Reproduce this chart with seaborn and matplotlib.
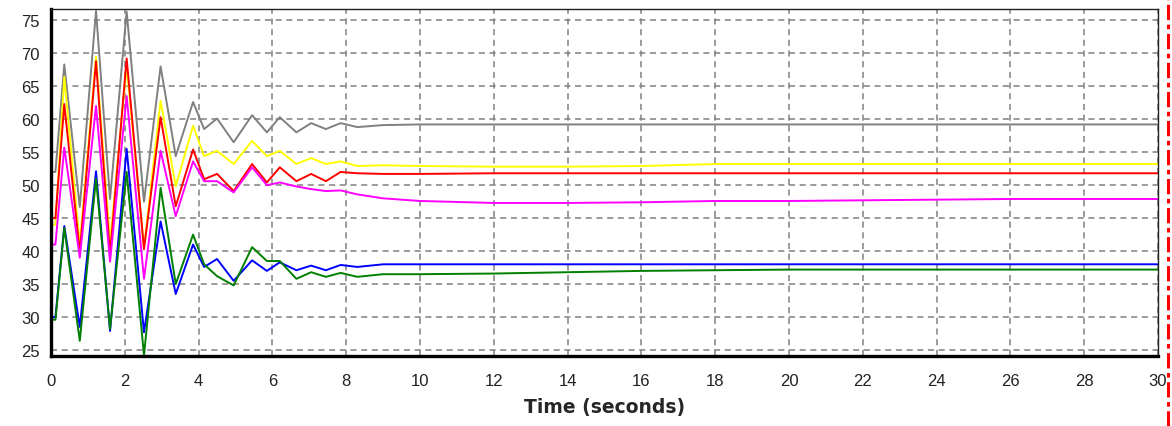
import matplotlib
matplotlib.use("Agg")
import matplotlib.pyplot as plt
from matplotlib.lines import Line2D
from matplotlib.ticker import MultipleLocator
import seaborn as sns
import pandas as pd

# ---- data ----
time_s = [0, 0.12, 0.36, 0.78, 1.22, 1.6, 2.05, 2.52, 2.97, 3.38, 3.85, 4.15,
          4.5, 4.95, 5.45, 5.85, 6.2, 6.65, 7.05, 7.45, 7.85, 8.3, 9, 10, 12,
          14, 16, 18, 20, 22, 24, 26, 28, 30]

grey = [52.0, 52.0, 68.3, 46.7, 76.4, 47.9, 76.3, 47.5, 68.0, 54.4, 62.6, 58.5,
        60.1, 56.5, 60.6, 58.0, 60.3, 58.0, 59.4, 58.5, 59.4, 58.8, 59.1, 59.2, 59.2,
        59.2, 59.2, 59.2, 59.2, 59.2, 59.2, 59.2, 59.2, 59.2]
yellow = [44.0, 44.0, 66.4, 41.0, 69.5, 41.3, 68.0, 40.5, 62.8, 49.8, 59.0, 54.4,
          55.2, 53.2, 56.7, 54.4, 55.2, 53.2, 54.1, 53.2, 53.6, 52.9, 53.0, 52.9, 52.8,
          52.8, 52.9, 53.2, 53.2, 53.2, 53.2, 53.2, 53.2, 53.2]
red = [45.0, 45.0, 62.3, 39.8, 68.8, 39.5, 69.2, 40.3, 60.3, 46.8, 55.4, 50.9,
       51.7, 49.1, 53.2, 50.4, 52.7, 50.6, 51.7, 50.6, 52.0, 51.8, 51.7, 51.7, 51.8,
       51.8, 51.8, 51.8, 51.8, 51.8, 51.8, 51.8, 51.8, 51.8]
magenta = [41.0, 41.0, 55.7, 39.0, 62.0, 38.4, 63.5, 35.8, 55.2, 45.3, 53.6, 50.6,
           50.6, 48.9, 52.7, 50.0, 50.4, 49.8, 49.4, 49.1, 49.2, 48.6, 48.0, 47.6, 47.3,
           47.3, 47.4, 47.6, 47.6, 47.7, 47.8, 47.9, 47.9, 47.9]
blue = [30.0, 30.0, 43.8, 28.5, 52.1, 27.9, 55.5, 27.7, 44.5, 33.5, 41.0, 37.6,
        38.8, 35.5, 38.6, 37.0, 38.3, 37.1, 37.8, 37.1, 37.9, 37.6, 38.0, 38.0, 38.0,
        38.0, 38.0, 38.0, 38.0, 38.0, 38.0, 38.0, 38.0, 38.0]
green = [29.6, 29.6, 43.5, 26.4, 51.0, 28.2, 52.0, 24.2, 49.6, 35.0, 42.5, 38.0,
         36.2, 34.8, 40.6, 38.5, 38.5, 35.8, 36.8, 36.1, 36.7, 36.1, 36.5, 36.5, 36.6,
         36.8, 37.0, 37.1, 37.2, 37.2, 37.2, 37.2, 37.2, 37.2]

series_names = ["grey", "yellow", "red", "magenta", "blue", "green"]
series_values = [grey, yellow, red, magenta, blue, green]
series_colors = ["#808080", "#ffff00", "#ff0000", "#ff00ff", "#0000ff", "#008000"]

rows = []
for name, vals in zip(series_names, series_values):
    for t, v in zip(time_s, vals):
        rows.append({"time": t, "value": v, "series": name})
df = pd.DataFrame(rows)

# ---- figure ----
sns.set_style("white")
plt.rcParams["font.family"] = ["Liberation Sans", "DejaVu Sans"]

fig = plt.figure(figsize=(11.72, 4.27), dpi=100)
ax = fig.add_axes([51 / 1172, 70 / 427, 1107 / 1172, 347 / 427])

sns.lineplot(data=df, x="time", y="value", hue="series", hue_order=series_names,
             palette=dict(zip(series_names, series_colors)), linewidth=1.4,
             legend=False, ax=ax, estimator=None, sort=False)

ax.set_xlim(0, 30)
ax.set_ylim(24.1, 76.7)
ax.xaxis.set_major_locator(MultipleLocator(2))
ax.xaxis.set_minor_locator(MultipleLocator(0.5))
ax.yaxis.set_major_locator(MultipleLocator(5))
ax.yaxis.set_minor_locator(MultipleLocator(1))

ax.grid(True, which="major", color="#808080", linestyle=(0, (4, 3)), linewidth=1.1)
ax.set_axisbelow(True)

ax.tick_params(axis="both", which="major", direction="out", length=5, width=1,
               color="black", labelsize=12, pad=3, labelcolor="#222222")
ax.tick_params(axis="both", which="minor", direction="out", length=2.5, width=1,
               color="black")
ax.tick_params(axis="x", which="major", length=6, pad=6)

for side in ["left", "bottom"]:
    ax.spines[side].set_linewidth(2.4)
    ax.spines[side].set_color("black")
for side in ["top", "right"]:
    ax.spines[side].set_linewidth(1.0)
    ax.spines[side].set_color("#222222")

ax.set_xlabel("Time (seconds)", fontsize=13.5, fontweight="bold", labelpad=7,
              family=["DejaVu Sans"])
ax.set_ylabel("")

# red dash-dot border on the right of the figure
fig.add_artist(Line2D([1168 / 1172, 1168 / 1172], [0, 1], transform=fig.transFigure,
                      color="red", linewidth=2.2, linestyle=(0, (5, 1.5, 1.5, 1.5))))

fig.savefig("out.png", dpi=100)
